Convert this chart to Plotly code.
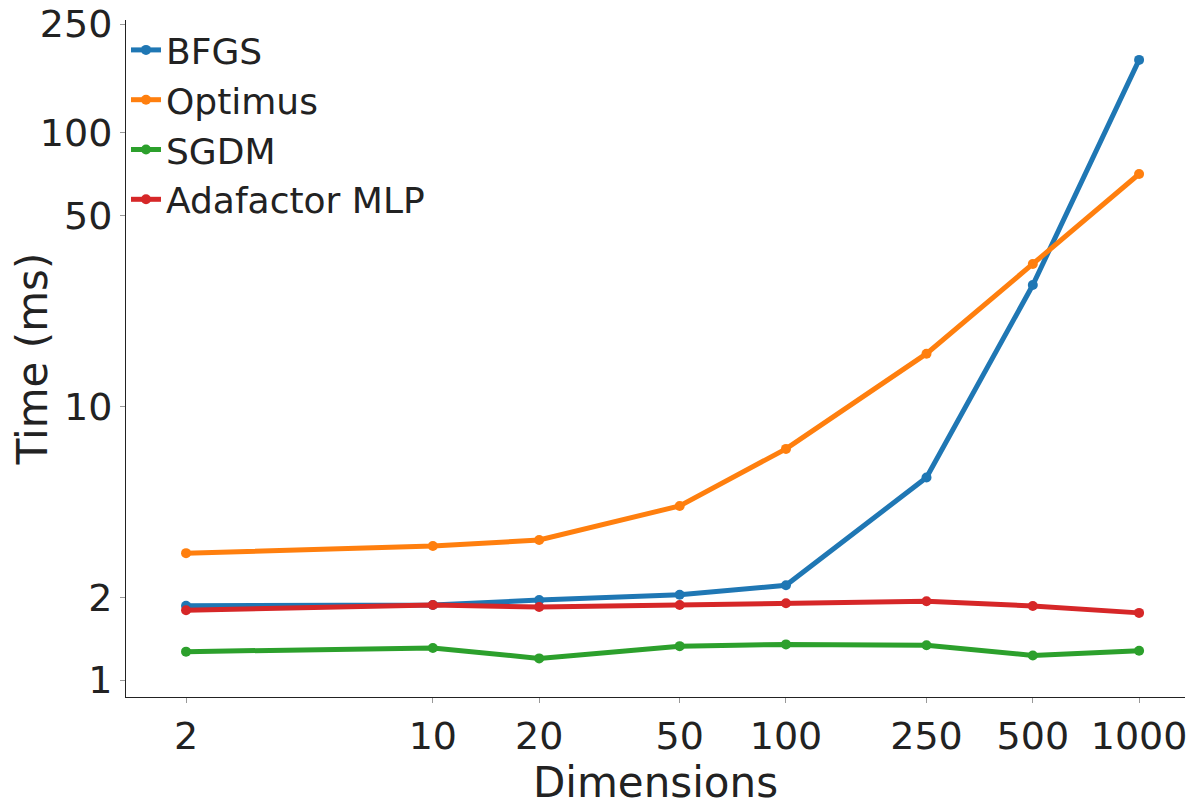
import plotly.graph_objects as go

# Laufzeiten pro Dimension
dims = [2, 10, 20, 50, 100, 250, 500, 1000]
bfgs = [1.87, 1.88, 1.96, 2.05, 2.22, 5.5, 27.8, 185]
optimus = [2.91, 3.09, 3.25, 4.33, 7.0, 15.6, 33.2, 70.8]
sgdm = [1.27, 1.31, 1.20, 1.33, 1.35, 1.34, 1.23, 1.28]
adafactor = [1.80, 1.88, 1.85, 1.88, 1.91, 1.94, 1.865, 1.76]

x_ticks = [2, 10, 20, 50, 100, 250, 500, 1000]
y_ticks = [1, 2, 10, 50, 100, 250]

font = "DejaVu Sans"

fig = go.Figure()
for name, vals, col in [("BFGS", bfgs, "#1f77b4"),
                        ("Optimus", optimus, "#ff7f0e"),
                        ("SGDM", sgdm, "#2ca02c"),
                        ("Adafactor MLP", adafactor, "#d62728")]:
    fig.add_trace(go.Scatter(x=dims, y=vals, mode="lines+markers", name=name,
                             line=dict(color=col, width=5),
                             marker=dict(color=col, size=10)))

fig.update_layout(
    template="simple_white",
    width=1200, height=800,
    margin=dict(l=118, r=23, t=12, b=111),
    font=dict(family=font, size=38, color="#222"),
    xaxis=dict(type="log", range=[0.131, 3.130], tickvals=x_ticks,
               ticktext=[str(v) for v in x_ticks], automargin=False,
               ticklabeloverflow="allow",
               title=dict(text="Dimensions", font=dict(size=42), standoff=0),
               ticks="outside", tickcolor="#999", ticklen=5,
               linecolor="#222", showline=True),
    yaxis=dict(type="log", range=[-0.062, 2.413], tickvals=y_ticks,
               ticktext=[str(v) for v in y_ticks], automargin=False,
               ticklabeloverflow="allow",
               title=dict(text="Time (ms)", font=dict(size=42), standoff=2),
               ticks="outside", tickcolor="#999", ticklen=5,
               linecolor="#222", showline=True),
    legend=dict(x=0.0, y=1.0, xanchor="left", yanchor="top",
                bgcolor="rgba(0,0,0,0)", font=dict(size=36),
                itemwidth=30, tracegroupgap=0),
    showlegend=True,
)

fig.write_html("out.html")
